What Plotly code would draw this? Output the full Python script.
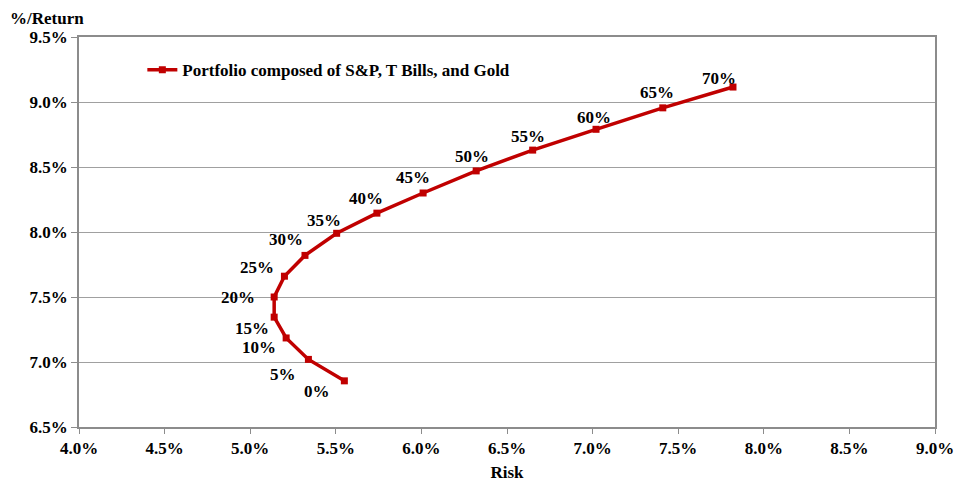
import plotly.graph_objects as go

# Data (percent values)
weights = ["0%", "5%", "10%", "15%", "20%", "25%", "30%", "35%",
           "40%", "45%", "50%", "55%", "60%", "65%", "70%"]
risk = [5.55, 5.34, 5.21, 5.14, 5.14, 5.20, 5.32, 5.505,
        5.74, 6.01, 6.32, 6.65, 7.02, 7.41, 7.82]
ret = [6.855, 7.02, 7.185, 7.345, 7.50, 7.66, 7.82, 7.99,
       8.145, 8.30, 8.47, 8.63, 8.79, 8.955, 9.115]
series_name = "Portfolio composed of S&P, T Bills, and Gold"
x_ticks = [4.0, 4.5, 5.0, 5.5, 6.0, 6.5, 7.0, 7.5, 8.0, 8.5, 9.0]
y_ticks = [6.5, 7.0, 7.5, 8.0, 8.5, 9.0, 9.5]

# Label offsets in pixels (layout only)
label_shift = [(-27, -11), (-25, -15), (-27, -10), (-22, -11), (-36, 0),
               (-27, 9), (-19, 16), (-13, 13), (-11, 15), (-10, 16),
               (-4, 14), (-5, 14), (-2, 12), (-6, 15), (-14, 9)]

RED = "#C00000"
FONT = "Liberation Serif"
FS = 17

fig = go.Figure()
fig.add_trace(go.Scatter(
    x=risk, y=ret, mode="lines+markers", name=f"<b>{series_name}</b>",
    line=dict(color=RED, width=3.5),
    marker=dict(symbol="square", size=7, color=RED),
))

for w, xv, yv, (dx, dy) in zip(weights, risk, ret, label_shift):
    fig.add_annotation(x=xv, y=yv, text=f"<b>{w}</b>", showarrow=False,
                       xshift=dx, yshift=dy, xanchor="center", yanchor="middle",
                       font=dict(family=FONT, size=FS, color="#000"))

fig.add_annotation(x=-0.083, y=1.0, xref="paper", yref="paper",
                   text="<b>%/Return</b>", showarrow=False,
                   xanchor="left", yanchor="bottom", yshift=7,
                   font=dict(family=FONT, size=FS, color="#000"))

fig.update_layout(
    width=955, height=482,
    margin=dict(l=79, r=20, t=37, b=55),
    paper_bgcolor="white", plot_bgcolor="white",
    font=dict(family=FONT, size=FS, color="#000"),
    showlegend=True,
    legend=dict(x=0.074, y=0.915, xanchor="left", yanchor="middle",
                bgcolor="rgba(0,0,0,0)",
                font=dict(family=FONT, size=FS, color="#000"),
                itemwidth=30),
    xaxis=dict(range=[4.0, 9.0], tickvals=x_ticks, automargin=False,
               ticktext=[f"<b>{v:.1f}%</b>" for v in x_ticks],
               showgrid=False, zeroline=False,
               showline=True, linecolor="#8c8c8c", linewidth=1.5, mirror=True,
               ticks="outside", ticklen=5, tickcolor="#8c8c8c",
               title=dict(text="<b>Risk</b>", standoff=12,
                          font=dict(family=FONT, size=FS))),
    yaxis=dict(range=[6.5, 9.5], tickvals=y_ticks, automargin=False,
               ticktext=[f"<b>{v:.1f}%</b>" for v in y_ticks],
               showgrid=True, gridcolor="#a0a0a0", gridwidth=1, zeroline=False,
               showline=True, linecolor="#8c8c8c", linewidth=1.5, mirror=True,
               ticks="outside", ticklen=6, tickcolor="#8c8c8c"),
)

fig.write_html("out.html")
